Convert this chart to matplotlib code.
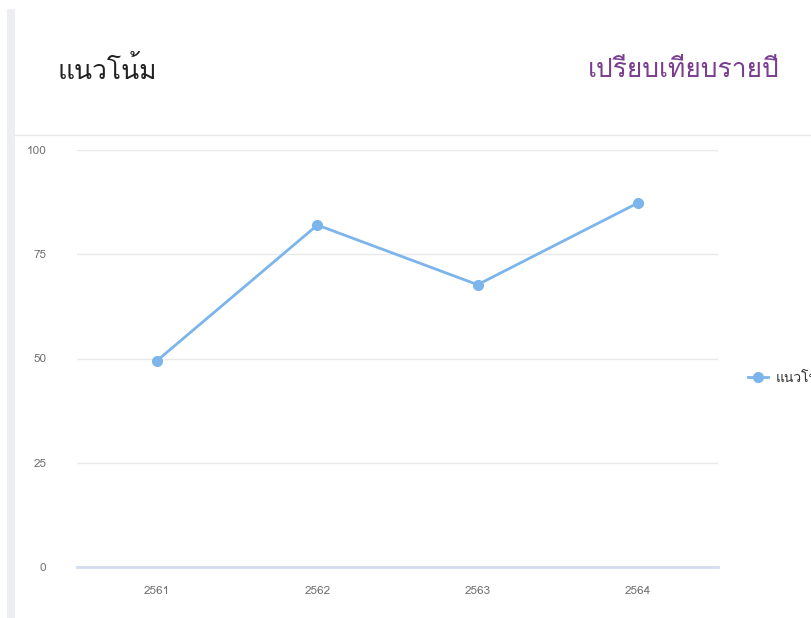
import matplotlib
matplotlib.use("Agg")
import matplotlib.pyplot as plt
from matplotlib import font_manager
from matplotlib.ft2font import FT2Font
from matplotlib.patches import Rectangle
from matplotlib.lines import Line2D

# data
years = ["2561", "2562", "2563", "2564"]
values = [49.5, 82, 67.7, 87.3]
y_ticks = [0, 25, 50, 75, 100]
series_name = "แนวโน้ม"
title_left = "แนวโน้ม"
title_right = "เปรียบเทียบรายปี"


def thai_family():
    # look for any installed font that has Thai glyphs
    found = []
    for f in font_manager.fontManager.ttflist:
        try:
            cmap = FT2Font(f.fname).get_charmap()
        except Exception:
            continue
        if 0x0E41 in cmap and 0x0E1B in cmap:
            found.append(f.name)
    return found


thai = thai_family()
families = (thai[:1] if thai else []) + ["DejaVu Sans"]
plt.rcParams["font.family"] = families

fig = plt.figure(figsize=(8.11, 6.18), dpi=100)
fig.patch.set_facecolor("white")

# card left border and header divider
fig.add_artist(Rectangle((7 / 811, 0), 8 / 811, 1 - 9 / 618,
                         transform=fig.transFigure, color="#eceef3", lw=0))
fig.add_artist(Line2D([15 / 811, 1], [1 - 135 / 618] * 2,
                      transform=fig.transFigure, color="#e8e8e8", lw=1))

fig.text(57 / 811, 1 - 70 / 618, title_left, fontsize=19, color="#222222",
         va="center", ha="left")
fig.text(780 / 811, 1 - 70 / 618, title_right, fontsize=19, color="#7a3d8f",
         va="center", ha="right")

ax = fig.add_axes([77 / 811, 1 - 567 / 618, 641 / 811, 417 / 618])
x = range(len(years))
ax.plot(x, values, color="#7cb5ec", lw=2, marker="o", ms=7,
        label=series_name, zorder=3, clip_on=False)

ax.set_xlim(-0.5, len(years) - 0.5)
ax.set_ylim(0, 100)
ax.set_yticks(y_ticks)
ax.set_xticks(list(x))
ax.set_xticklabels(years)
ax.grid(axis="y", color="#e9e9e9", lw=1)
ax.set_axisbelow(True)
for s in ["top", "right", "left"]:
    ax.spines[s].set_visible(False)
ax.spines["bottom"].set_color("#d4ddee")
ax.spines["bottom"].set_linewidth(2)
ax.tick_params(axis="both", length=0, labelsize=8.5, colors="#707070")
ax.tick_params(axis="y", pad=22)
ax.tick_params(axis="x", pad=14)

# legend on the right, cut off by the figure edge like the original
fig.add_artist(Line2D([748 / 811, 768 / 811], [1 - 377 / 618] * 2,
                      transform=fig.transFigure, color="#7cb5ec", lw=2))
fig.add_artist(Line2D([758 / 811], [1 - 377 / 618],
                      transform=fig.transFigure, color="#7cb5ec",
                      marker="o", ms=7, lw=0))
fig.text(776 / 811, 1 - 377 / 618, series_name, fontsize=10, color="#333333",
         va="center", ha="left")

fig.savefig("out.png", dpi=100)
